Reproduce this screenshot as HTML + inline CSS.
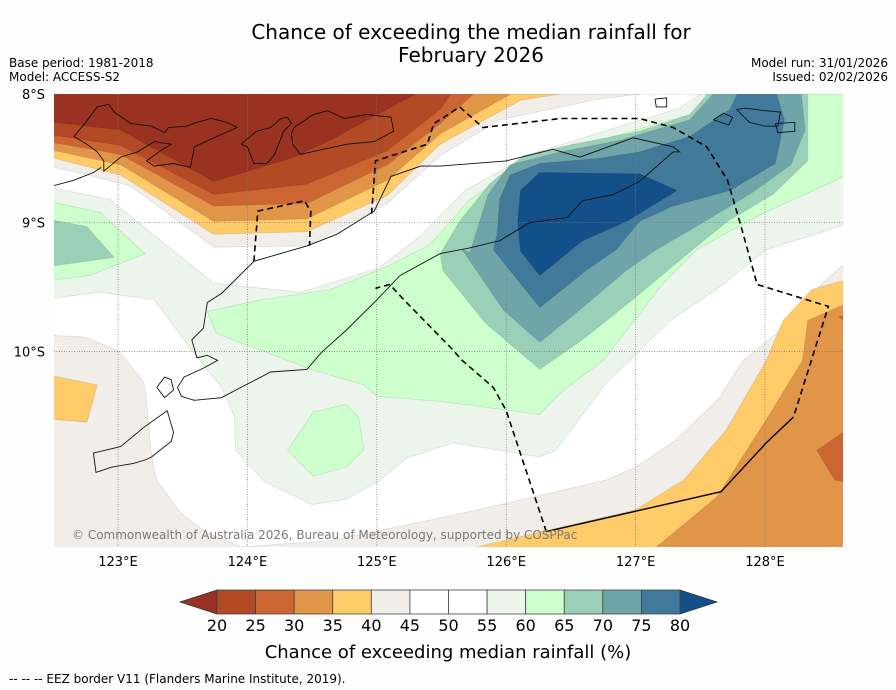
<!DOCTYPE html>
<html><head><meta charset="utf-8"><style>
body{margin:0;background:#fff;}
svg{display:block;font-family:"DejaVu Sans","Liberation Sans",sans-serif;}
</style></head><body>
<svg id="chart" width="896" height="690" viewBox="0 0 896 690" xmlns="http://www.w3.org/2000/svg">
<rect width="896" height="690" fill="#fefefe"/>
<text x="471" y="39" font-size="20" text-anchor="middle" fill="#000">Chance of exceeding the median rainfall for</text>
<text x="471" y="62" font-size="20" text-anchor="middle" fill="#000">February 2026</text>
<text x="9" y="67" font-size="12">Base period: 1981-2018</text>
<text x="9" y="81" font-size="12">Model: ACCESS-S2</text>
<text x="888" y="67" font-size="12" text-anchor="end">Model run: 31/01/2026</text>
<text x="888" y="81" font-size="12" text-anchor="end">Issued: 02/02/2026</text>
<defs><clipPath id="mapclip"><rect x="54" y="94" width="789" height="453"/></clipPath></defs>
<g id="map" clip-path="url(#mapclip)"></g>
<g id="axes"></g>
<g id="cbar"></g>
<text x="448" y="658" font-size="18" text-anchor="middle">Chance of exceeding median rainfall (%)</text>
<text x="9" y="683" font-size="12">--  --  -- EEZ border V11 (Flanders Marine Institute, 2019).</text>
</svg>
<script>
// ---- data ----
const levels = [20,25,30,35,40,45,50,55,60,65,70,75,80];
const bandColors = ["#b24a26","#cb6633","#e09548","#fecb68","#f1ede8","#ffffff","#ffffff","#ebf5eb","#ccffcc","#9bd0b8","#6fa5a8","#41799a"];
const underColor = "#993220";
const overColor = "#134f88";
const lonTicks = [123,124,125,126,127,128];
const latTicks = [8,9,10];
// filled contour regions [lon, lat(S)] drawn in order
const regionLevels = [40,35,30,25,20,0, 40,35,30,25,25,35, 55,60,65,60,60,65,70,75,80];
const regions = [
 [[122.4,7.9],[127.03,7.9],[127.03,8],[126.72,8.04],[125.95,8.20],[125.49,8.48],[125.08,8.85],[124.46,9.18],[123.74,9.19],[123.09,8.71],[122.51,8.57],[122.4,8.57]],
 [[122.4,7.9],[127.03,7.9],[126.11,8.05],[125.49,8.39],[125.08,8.79],[124.46,9.07],[123.74,9.09],[123.02,8.63],[122.51,8.50],[122.4,8.50]],
 [[122.4,7.9],[126.2,7.9],[125.95,8.05],[125.49,8.31],[125.08,8.67],[124.46,8.97],[123.74,8.99],[123.02,8.55],[122.51,8.44],[122.4,8.44]],
 [[122.4,7.9],[125.86,7.9],[125.49,8.23],[125.08,8.55],[124.46,8.85],[123.74,8.87],[123.02,8.47],[122.51,8.38],[122.4,8.38]],
 [[122.4,7.9],[125.64,7.9],[125.49,8.12],[125.08,8.44],[124.46,8.70],[123.74,8.78],[123.02,8.40],[122.51,8.32],[122.4,8.32]],
 [[122.4,7.9],[125.35,7.9],[125.30,8.0],[125.00,8.16],[124.64,8.36],[124.36,8.49],[123.74,8.68],[123.02,8.28],[122.51,8.22],[122.4,8.22]],
 [[122.4,9.87],[122.75,9.89],[123.01,10.00],[123.20,10.24],[123.22,10.38],[123.26,10.82],[123.30,11.00],[123.49,11.26],[123.69,11.41],[123.95,11.52],[124.64,11.47],[125.51,11.29],[126.00,11.18],[126.77,11.00],[127.00,10.90],[127.31,10.69],[127.65,10.36],[127.83,10.07],[128.09,9.86],[128.30,9.60],[128.60,9.33],[128.7,9.33],[128.7,11.6],[122.4,11.6]],
 [[125.77,11.52],[127.00,11.23],[127.37,11.00],[127.70,10.61],[128.01,10.07],[128.14,9.76],[128.36,9.52],[128.60,9.45],[128.7,9.45],[128.7,11.6],[125.6,11.6]],
 [[127.16,11.52],[127.63,11.13],[128.01,10.53],[128.29,10.07],[128.33,9.76],[128.60,9.64],[128.7,9.64],[128.7,11.6],[127.1,11.6]],
 [[128.7,10.56],[128.40,10.77],[128.54,11.00],[128.7,11.03]],
 [[128.57,9.73],[128.7,9.70],[128.7,9.83]],
 [[122.4,10.17],[122.84,10.26],[122.76,10.55],[122.4,10.52]],
 [[122.4,8.71],[122.94,8.82],[123.32,9.13],[123.74,9.47],[124.41,9.54],[125.02,9.35],[125.34,9.10],[125.68,8.75],[126.18,8.47],[126.72,8.30],[127.34,8.11],[127.65,7.9],[128.7,7.9],[128.7,8.99],[128.01,9.21],[127.65,9.50],[127.27,9.76],[126.77,10.25],[126.38,10.77],[126.26,10.82],[125.59,10.71],[125.23,10.83],[125.00,11.02],[124.76,11.15],[124.50,11.19],[124.13,11.01],[123.91,10.77],[123.90,10.51],[123.80,10.28],[123.57,9.99],[123.28,9.60],[122.86,9.54],[122.4,9.60]],
 [[122.4,8.82],[122.86,8.92],[123.21,9.24],[122.78,9.41],[122.4,9.46]],
 [[122.4,8.96],[122.76,9.03],[122.97,9.27],[122.4,9.35]],
 [[123.69,9.69],[124.10,9.60],[124.64,9.52],[125.08,9.34],[125.41,9.17],[125.72,8.82],[126.11,8.55],[126.72,8.36],[127.42,8.16],[127.73,7.9],[128.7,7.9],[128.7,8.60],[127.96,8.94],[127.47,9.21],[127.19,9.50],[126.75,10.07],[126.42,10.32],[126.26,10.49],[125.51,10.39],[125.00,10.35],[124.90,10.26],[124.49,10.14],[123.76,9.86]],
 [[124.31,10.77],[124.51,10.47],[124.76,10.41],[124.86,10.51],[124.90,10.77],[124.76,10.90],[124.51,10.97]],
 [[125.49,9.24],[125.64,8.99],[125.87,8.70],[126.13,8.48],[126.52,8.39],[127.03,8.29],[127.42,8.16],[127.64,7.9],[128.33,7.9],[128.33,8.52],[128.06,8.78],[127.71,8.99],[127.44,9.21],[127.00,9.58],[126.59,9.91],[126.26,10.14],[125.84,9.78],[125.51,9.37]],
 [[125.72,9.23],[125.86,8.78],[126.03,8.55],[126.42,8.45],[126.88,8.36],[127.42,8.20],[127.69,7.9],[128.27,7.9],[128.31,8.28],[128.20,8.55],[127.88,8.78],[127.50,9.01],[127.16,9.21],[126.93,9.37],[126.59,9.66],[126.26,9.93],[125.98,9.68],[125.66,9.21]],
 [[125.93,9.09],[125.95,8.82],[126.03,8.63],[126.26,8.54],[126.72,8.50],[127.03,8.45],[127.42,8.33],[127.73,8.12],[127.83,7.9],[128.06,7.9],[128.15,8.20],[128.08,8.54],[127.73,8.75],[127.29,8.87],[127.03,8.99],[126.85,9.21],[126.62,9.37],[126.26,9.66],[125.90,9.21]],
 [[126.11,8.75],[126.26,8.61],[127.03,8.62],[127.32,8.75],[126.93,8.99],[126.59,9.14],[126.26,9.41],[126.11,9.22],[126.09,8.99]]
];
const coastNames = ["timor","semau","rote","flores-east","alor","pantar-wetar","island-a","island-b","island-c","island-d","island-e"];
const coasts = [
 [[123.69,9.62],[123.80,9.55],[124.05,9.30],[124.46,9.18],[124.69,9.09],[124.98,8.91],[125.11,8.64],[125.34,8.56],[125.49,8.56],[126.00,8.52],[126.36,8.43],[126.57,8.49],[126.98,8.34],[127.29,8.41],[127.34,8.45],[127.29,8.45],[127.03,8.68],[126.83,8.78],[126.59,8.83],[126.47,8.96],[126.18,9.00],[125.95,9.14],[125.70,9.20],[125.49,9.24],[125.18,9.41],[125.00,9.60],[124.77,9.83],[124.57,10.01],[124.46,10.14],[124.18,10.16],[123.95,10.28],[123.80,10.36],[123.59,10.38],[123.49,10.35],[123.46,10.28],[123.51,10.20],[123.66,10.13],[123.77,10.07],[123.69,10.03],[123.61,10.05],[123.57,9.91],[123.66,9.82],[123.69,9.62]],
 [[123.30,10.28],[123.36,10.20],[123.41,10.22],[123.43,10.30],[123.36,10.36],[123.30,10.28]],
 [[123.38,10.46],[123.43,10.63],[123.41,10.70],[123.26,10.82],[123.22,10.84],[123.12,10.87],[122.95,10.90],[122.83,10.94],[122.81,10.79],[123.02,10.74],[123.20,10.59],[123.38,10.46]],
 [[122.75,8.22],[122.84,8.10],[122.93,8.08],[122.97,8.14],[123.10,8.23],[123.26,8.25],[123.36,8.30],[123.39,8.26],[123.53,8.25],[123.61,8.22],[123.72,8.19],[123.84,8.22],[123.92,8.26],[123.74,8.34],[123.59,8.41],[123.56,8.57],[123.43,8.54],[123.28,8.56],[123.22,8.52],[123.33,8.44],[123.41,8.39],[123.28,8.37],[123.15,8.45],[123.02,8.49],[122.89,8.60],[122.89,8.52],[122.84,8.45],[122.76,8.39],[122.66,8.33],[122.75,8.22]],
 [[123.95,8.39],[124.07,8.29],[124.18,8.26],[124.26,8.19],[124.31,8.18],[124.34,8.23],[124.28,8.29],[124.21,8.47],[124.15,8.54],[124.05,8.54],[124.00,8.41],[123.95,8.39]],
 [[124.36,8.26],[124.51,8.16],[124.62,8.13],[124.75,8.19],[124.92,8.16],[125.11,8.18],[125.13,8.29],[124.98,8.37],[124.77,8.39],[124.54,8.44],[124.41,8.47],[124.35,8.39],[124.34,8.31],[124.36,8.26]],
 [[122.4,8.74],[122.66,8.67],[122.81,8.61],[122.87,8.57]],
 [[127.15,8.04],[127.24,8.03],[127.24,8.10],[127.16,8.10],[127.15,8.04]],
 [[127.60,8.20],[127.68,8.15],[127.75,8.18],[127.72,8.24],[127.60,8.20]],
 [[127.78,8.12],[127.85,8.11],[128.0,8.13],[128.12,8.14],[128.10,8.25],[128.0,8.25],[127.88,8.22],[127.78,8.12]],
 [[128.08,8.23],[128.23,8.22],[128.23,8.29],[128.1,8.30],[128.08,8.23]]
];
const eezDashed = [
 [[124.05,9.30],[124.08,8.91],[124.44,8.83],[124.49,8.91],[124.48,9.18]],
 [[124.96,8.93],[124.99,8.52],[125.39,8.39],[125.44,8.23],[125.52,8.18],[125.64,8.10],[125.82,8.26],[126.42,8.19],[127.03,8.19],[127.29,8.26],[127.55,8.41],[127.71,8.67],[127.81,9.01],[127.94,9.48],[128.49,9.65],[128.22,10.51]],
 [[126.31,11.40],[126.00,10.46],[125.90,10.28],[125.66,10.07],[125.57,9.97],[125.21,9.60],[125.10,9.48],[124.99,9.51]]
];
const eezSolid = [[128.22,10.51],[128.01,10.71],[127.66,11.09],[126.31,11.40]];

// ---- scales ----
const X = lon => 118 + (lon - 123) * 129.4;
const Y = lat => 94 + (lat - 8) * 128.7;
const NS = "http://www.w3.org/2000/svg";
function colorFor(v){
  if (v < levels[0]) return underColor;
  if (v >= levels[levels.length-1]) return overColor;
  for (let i=0;i<levels.length-1;i++) if (v>=levels[i] && v<levels[i+1]) return bandColors[i];
  return overColor;
}
const pts = arr => arr.map(p => X(p[0]).toFixed(1)+","+Y(p[1]).toFixed(1)).join(" ");
const map = document.getElementById("map");
const base = document.createElementNS(NS,"rect");
base.setAttribute("x",54);base.setAttribute("y",94);base.setAttribute("width",789);base.setAttribute("height",453);base.setAttribute("fill","#ffffff");


map.appendChild(base);
regions.forEach((r,i) => {
  const p = document.createElementNS(NS,"polygon");
  p.setAttribute("points", pts(r));
  p.setAttribute("fill", colorFor(regionLevels[i]));
  p.setAttribute("stroke","rgba(0,0,0,0.10)");
  p.setAttribute("stroke-width","0.8");
  
  
  map.appendChild(p);
});
// grid
lonTicks.forEach(l => {
  const ln = document.createElementNS(NS,"line");
  ln.setAttribute("x1",X(l));ln.setAttribute("x2",X(l));ln.setAttribute("y1",94);ln.setAttribute("y2",547);
  ln.setAttribute("stroke","#777");ln.setAttribute("stroke-width","0.7");ln.setAttribute("stroke-dasharray","1,1.5");
  
  
  map.appendChild(ln);
});
latTicks.forEach(l => {
  const ln = document.createElementNS(NS,"line");
  ln.setAttribute("x1",54);ln.setAttribute("x2",843);ln.setAttribute("y1",Y(l));ln.setAttribute("y2",Y(l));
  ln.setAttribute("stroke","#777");ln.setAttribute("stroke-width","0.7");ln.setAttribute("stroke-dasharray","1,1.5");
  
  
  map.appendChild(ln);
});
coasts.forEach((c,i) => {
  const pl = document.createElementNS(NS,"polyline");
  pl.setAttribute("points", pts(c));
  pl.setAttribute("fill","none");pl.setAttribute("stroke","#111");pl.setAttribute("stroke-width","0.9");
  
  
  map.appendChild(pl);
});
eezDashed.forEach(c => {
  const pl = document.createElementNS(NS,"polyline");
  pl.setAttribute("points", pts(c));
  pl.setAttribute("fill","none");pl.setAttribute("stroke","#000");pl.setAttribute("stroke-width","1.6");pl.setAttribute("stroke-dasharray","6,4");
  
  
  map.appendChild(pl);
});
const sl = document.createElementNS(NS,"polyline");
sl.setAttribute("points", pts(eezSolid));
sl.setAttribute("fill","none");sl.setAttribute("stroke","#000");sl.setAttribute("stroke-width","1.4");


map.appendChild(sl);
const copy = document.createElementNS(NS,"text");
copy.setAttribute("x",72);copy.setAttribute("y",539);copy.setAttribute("font-size","12");copy.setAttribute("fill","#7a7a7a");
copy.textContent = "© Commonwealth of Australia 2026, Bureau of Meteorology, supported by COSPPac";


map.appendChild(copy);

// axes labels
const axes = document.getElementById("axes");
lonTicks.forEach(l => {
  const t = document.createElementNS(NS,"text");
  t.setAttribute("x",X(l));t.setAttribute("y",566);t.setAttribute("font-size","13");t.setAttribute("text-anchor","middle");
  t.textContent = l + "°E";
  
  
  axes.appendChild(t);
});
latTicks.forEach(l => {
  const t = document.createElementNS(NS,"text");
  t.setAttribute("x",45);t.setAttribute("y",Y(l)+5);t.setAttribute("font-size","13");t.setAttribute("text-anchor","end");
  t.textContent = l + "°S";
  
  
  axes.appendChild(t);
});

// colorbar
const cb = document.getElementById("cbar");
const cx0 = 217, cx1 = 680, cy0 = 590, cy1 = 614;
const CX = v => cx0 + (v - levels[0]) / (levels[levels.length-1] - levels[0]) * (cx1 - cx0);
const under = document.createElementNS(NS,"polygon");
under.setAttribute("points", `${CX(levels[0])},${cy0} ${CX(levels[0])},${cy1} 180,${(cy0+cy1)/2}`);
under.setAttribute("fill", underColor);under.setAttribute("stroke","#333");under.setAttribute("stroke-width","0.8");


cb.appendChild(under);
const over = document.createElementNS(NS,"polygon");
over.setAttribute("points", `${CX(levels[levels.length-1])},${cy0} ${CX(levels[levels.length-1])},${cy1} 717,${(cy0+cy1)/2}`);
over.setAttribute("fill", overColor);over.setAttribute("stroke","#333");over.setAttribute("stroke-width","0.8");


cb.appendChild(over);
bandColors.forEach((c,i) => {
  const r = document.createElementNS(NS,"rect");
  r.setAttribute("x", CX(levels[i]));r.setAttribute("y",cy0);
  r.setAttribute("width", CX(levels[i+1]) - CX(levels[i]));r.setAttribute("height",cy1-cy0);
  r.setAttribute("fill",c);r.setAttribute("stroke","#444");r.setAttribute("stroke-width","0.8");
  
  
  cb.appendChild(r);
});
levels.forEach(v => {
  const t = document.createElementNS(NS,"text");
  t.setAttribute("x",CX(v));t.setAttribute("y",631);t.setAttribute("font-size","16");t.setAttribute("text-anchor","middle");
  t.textContent = v;
  
  
  cb.appendChild(t);
});
</script>
</body></html>
